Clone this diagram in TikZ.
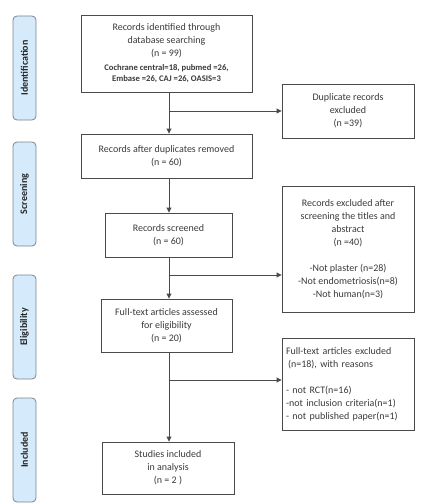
\documentclass[tikz,border=0pt]{standalone}
\usepackage{fontspec}
\setmainfont{Carlito}
\usetikzlibrary{arrows.meta}
\definecolor{txt}{HTML}{3A3A3A}
\definecolor{lncol}{HTML}{4A4A4A}
\definecolor{sidefill}{HTML}{D5EAFA}
\definecolor{sideline}{HTML}{7A8590}
\newcommand{\smalltxt}{\fontsize{8.6}{10}\selectfont\bfseries}
\begin{document}
\begin{tikzpicture}[x=1pt,y=-1pt,
  box/.style={draw=lncol,line width=0.9pt,rectangle,inner sep=0pt,align=center,text=txt,font=\fontsize{10}{13}\selectfont},
  side/.style={draw=sideline,fill=sidefill,line width=0.8pt,rounded corners=4pt,minimum width=23pt,inner sep=0pt,text=black!85,font=\fontsize{10}{12}\selectfont\bfseries},
  arr/.style={draw=lncol,line width=0.9pt,-{Triangle[length=5pt,width=5pt]}}]
\useasboundingbox (0,0) rectangle (422,503);
% side labels
\node[side,minimum height=104pt] (s1) at (24.5,68) {\rotatebox{90}{Identification}};
\node[side,minimum height=104pt] (s2) at (24.5,194) {\rotatebox{90}{Screening}};
\node[side,minimum height=104pt] (s3) at (24.5,327) {\rotatebox{90}{Eligibility}};
\node[side,minimum height=104pt] (s4) at (24.5,450) {\rotatebox{90}{Included}};
% boxes
\node[box,minimum width=171pt,minimum height=77pt] (b1) at (166.5,53.5)
  {Records identified through\\database searching\\(n = 99)\\[1pt]{\smalltxt Cochrane central=18, pubmed =26,}\\[-2pt]{\smalltxt Embase =26, CAJ =26, OASIS=3}};
\node[box,minimum width=132pt,minimum height=54pt] (dup) at (348,111)
  {Duplicate records\\excluded\\(n =39)};
\node[box,minimum width=171pt,minimum height=44pt] (b2) at (166.5,156)
  {Records after duplicates removed\\(n = 60)};
\node[box,minimum width=127pt,minimum height=44pt] (b3) at (168.5,235)
  {Records screened\\(n = 60)};
\node[box,minimum width=132pt,minimum height=126pt] (ex) at (348,249)
  {Records excluded after\\screening the titles and\\abstract\\(n =40)\\[13pt]-Not plaster (n=28)\\-Not endometriosis(n=8)\\-Not human(n=3)};
\node[box,minimum width=132pt,minimum height=92pt,align=left,text width=124pt] (fx) at (348,384)
  {Full-text articles excluded\\\hspace*{2pt}(n=18), with reasons\\[13pt]- not RCT(n=16)\\-not inclusion criteria(n=1)\\- not published paper(n=1)};
\node[box,minimum width=132pt,minimum height=52pt] (b5) at (168,468)
  {Studies included\\in analysis\\(n = 2 )};
\node[box,minimum width=131pt,minimum height=53pt] (b4) at (166.5,325.5)
  {Full-text articles assessed\\for eligibility\\(n = 20)};
% connectors
\coordinate (sp) at (169,0);
\coordinate (j1) at (169,111);
\coordinate (j2) at (169,275);
\coordinate (j3) at (169,380);
\draw[arr] (b1.south -| sp) -- (b2.north -| sp);
\draw[arr] (j1) -- (dup.west |- j1);
\draw[arr] (b2.south -| sp) -- (b3.north -| sp);
\draw[arr] (b3.south -| sp) -- (b4.north -| sp);
\draw[arr] (j2) -- (ex.west |- j2);
\draw[arr] (b4.south -| sp) -- (b5.north -| sp);
\draw[arr] (j3) -- (fx.west |- j3);
\end{tikzpicture}
\end{document}
